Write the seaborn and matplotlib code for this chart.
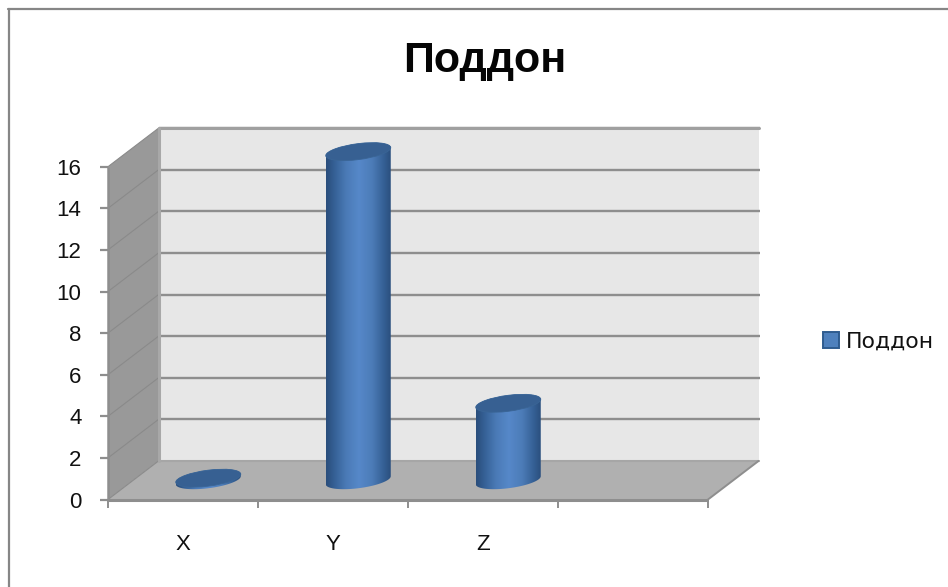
import numpy as np
import pandas as pd
import matplotlib
matplotlib.use("Agg")
import matplotlib.pyplot as plt
from matplotlib.lines import Line2D
from matplotlib.patches import PathPatch, Polygon, Patch
from matplotlib.path import Path
from matplotlib.transforms import Affine2D
import seaborn as sns

categories = ["X", "Y", "Z"]
values = [0.1, 15.8, 3.7]
series_name = "Поддон"
y_ticks = list(range(0, 17, 2))

W, H = 948, 587
sns.set_theme(style="white")
plt.rcParams["font.family"] = ["Liberation Sans", "DejaVu Sans"]

fig = plt.figure(figsize=(W / 100, H / 100), dpi=100, facecolor="white")
ax = fig.add_axes([108 / W, (H - 499.5) / H, 600 / W, 332.8 / H])
ax.patch.set_alpha(0)

df = pd.DataFrame({"category": categories, "value": values})
sns.barplot(data=df, x="category", y="value", width=0.433, color="#4f81bd",
            ax=ax, saturation=1, zorder=3)
bars = list(ax.patches)

X0, X1 = -0.5, 3.5
Y0, Y1 = 0, 16
ax.set_xlim(X0, X1)
ax.set_ylim(Y0, Y1)

# Depth of the box, in axis units
DX, DY = 50.5 / 150, 38.5 / 20.8
GRID = "#8e8e8e"

# Box: back wall, side wall, floor
ax.add_patch(Polygon([(X0 + DX, Y0 + DY), (X1 + DX, Y0 + DY), (X1 + DX, Y1 + DY), (X0 + DX, Y1 + DY)],
                     fc="#e7e7e7", ec="none", zorder=0, clip_on=False))
ax.add_patch(Polygon([(X0, Y0), (X0 + DX, Y0 + DY), (X0 + DX, Y1 + DY), (X0, Y1)],
                     fc="#999999", ec="none", zorder=0.5, clip_on=False))
ax.add_patch(Polygon([(X0, Y0), (X1, Y0), (X1 + DX, Y0 + DY), (X0 + DX, Y0 + DY)],
                     fc="#b0b0b0", ec="none", zorder=1, clip_on=False))

# Grid lines run along the side wall and across the back wall
for t in y_ticks:
    ax.plot([X0, X0 + DX], [t, t + DY], color="#8a8a8a", lw=0.8, zorder=1.2, clip_on=False)
    if t > 0:
        ax.plot([X0 + DX, X1 + DX + 0.01], [t + DY, t + DY], color=GRID, lw=1.7,
                zorder=1.2, clip_on=False, solid_capstyle="butt")
ax.plot([X0 + DX, X1 + DX], [Y1 + DY, Y1 + DY], color="#a0a0a0", lw=2.2, zorder=1.2, clip_on=False)
ax.plot([X0 + DX, X1 + DX], [Y0 + DY, Y0 + DY], color="#a6a6a6", lw=1.5, zorder=1.2, clip_on=False)
ax.plot([X0 + DX, X0 + DX], [Y0 + DY, Y1 + DY], color="#a8a8a8", lw=2.2, zorder=1.2, clip_on=False)
ax.plot([X1, X1 + DX], [Y0, Y0 + DY], color=GRID, lw=1.4, zorder=1.2, clip_on=False)
ax.plot([X0, X1], [Y0, Y0], color=GRID, lw=2.2, zorder=1.3, clip_on=False, solid_capstyle="butt")
ax.plot([X0, X0], [Y0, Y1], color=GRID, lw=1.8, zorder=1.3, clip_on=False, solid_capstyle="butt")

# Cylinder shading across the bar width
stops = np.array([[0.0, 0x2a, 0x4e, 0x7c], [0.12, 0x35, 0x60, 0x95], [0.3, 0x4a, 0x7a, 0xb6],
                  [0.5, 0x56, 0x88, 0xc9], [0.7, 0x4c, 0x7c, 0xb8], [0.88, 0x35, 0x60, 0x95],
                  [1.0, 0x2a, 0x4e, 0x7c]])
pos = np.linspace(0, 1, 65)
shade = np.stack([np.interp(pos, stops[:, 0], stops[:, i]) / 255 for i in (1, 2, 3)], axis=-1)[None, :, :]

HALF_W, RISE, TILT = 0.2167, 4 / 20.8, 8 / 20.8
ts_low = np.linspace(np.pi, 2 * np.pi, 60)
ts_up = np.linspace(0, np.pi, 60)


def rim(cx, cy, t):
    return np.column_stack([cx + HALF_W * np.cos(t), cy + TILT * np.sin(t) + RISE * np.cos(t)])


for bar in bars:
    val = bar.get_height()
    cx = bar.get_x() + bar.get_width() / 2 + DX / 2
    base = DY / 2
    bar.set_x(bar.get_x() + DX / 2)
    bar.set_y(base)
    bar.set_clip_on(False)
    bar.set_visible(False)

    # Rounded body: lower half of the base ellipse, up to the top ellipse and back
    outline = np.vstack([rim(cx, base, ts_low), rim(cx, base + val, ts_up)])
    body = PathPatch(Path(np.vstack([outline, outline[0]]), closed=True), fc="none", ec="none",
                     transform=ax.transData, zorder=3)
    ax.add_patch(body)
    body.set_clip_on(False)
    top_extent = base + val + 1
    img = ax.imshow(shade, extent=(cx - HALF_W, cx + HALF_W, base - 1, top_extent), aspect="auto",
                    interpolation="bilinear", zorder=3)
    img.set_clip_box(fig.bbox)
    img.set_clip_path(body)

    cap = Affine2D(np.array([[HALF_W, 0, cx], [RISE, TILT, base + val], [0, 0, 1]]))
    ax.add_patch(PathPatch(cap.transform_path(Path.unit_circle()), fc="#376092", ec="#3a6596",
                           lw=0.6, zorder=4, clip_on=False))

ax.set_xlim(X0, X1)
ax.set_ylim(Y0, Y1)

# Axes dressing
for s in ax.spines.values():
    s.set_visible(False)
ax.set_xlabel("")
ax.set_ylabel("")
ax.set_yticks(y_ticks)
ax.set_yticklabels([str(t) for t in y_ticks], fontsize=16, color="#111111")
ax.tick_params(axis="y", left=True, length=6, width=1.6, color=GRID, pad=13)
ax.set_xticks(np.arange(X0, X1 + 0.5))
ax.set_xticklabels([])
ax.tick_params(axis="x", which="major", bottom=True, length=5.5, width=1.4, color=GRID)
ax.set_xticks(range(len(categories)), labels=categories, minor=True)
ax.tick_params(axis="x", which="minor", bottom=False, labelsize=16, labelcolor="#111111", pad=21)

fig.text(485 / W, 1 - 61 / H, series_name, fontsize=31, fontweight="bold", color="#050505",
         ha="center", va="center")

legend = ax.legend(handles=[Patch(facecolor="#4f81bd", edgecolor="#2f5c8f", linewidth=1.4, label=series_name)],
                   loc="center left", bbox_to_anchor=(823 / W, 1 - 342 / H), bbox_transform=fig.transFigure,
                   frameon=False, prop={"family": "DejaVu Sans", "size": 15.8}, handlelength=0.75,
                   handleheight=0.75, handletextpad=0.3, borderpad=0, borderaxespad=0, labelcolor="#111111")

# Outer frame of the chart area
fig.add_artist(Line2D([8.5 / W, 8.5 / W], [0, 1 - 9 / H], color="#868686", lw=1.6))
fig.add_artist(Line2D([8 / W, 1], [1 - 9 / H, 1 - 9 / H], color="#868686", lw=1.6))

fig.savefig("out.png", dpi=100)
